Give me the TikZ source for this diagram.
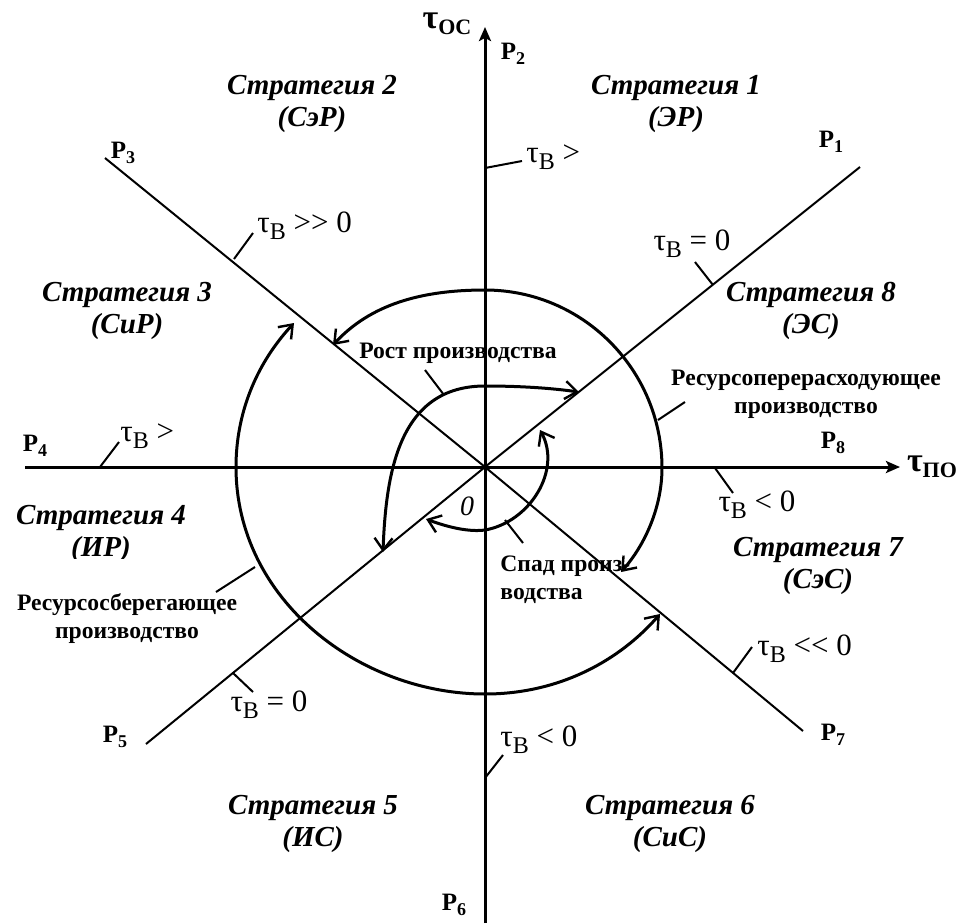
\documentclass[tikz,border=0pt]{standalone}
\usepackage{fontspec}
\setmainfont{Liberation Serif}[Ligatures=TeXOff]
\usetikzlibrary{arrows.meta}
\newcommand{\tauB}{τ\raisebox{-0.5ex}{\fontsize{12}{12}\selectfont B}}
\newcommand{\Plab}[1]{P\raisebox{-0.4ex}{\fontsize{9}{9}\selectfont #1}}
\begin{document}
\begin{tikzpicture}[x=0.5pt,y=-0.5pt,
  axis/.style={line width=1.5pt},
  ray/.style={line width=1pt},
  tickline/.style={line width=1pt},
  loopline/.style={line width=1.5pt,
    {Straight Barb[length=6pt,width=9pt,line width=1.2pt]}-{Straight Barb[length=6pt,width=9pt,line width=1.2pt]}},
  strat/.style={font=\fontsize{14.5}{16}\selectfont\bfseries\itshape, align=center, inner sep=0pt},
  lab/.style={font=\fontsize{15.5}{16}\selectfont, inner sep=0pt},
  plab/.style={font=\fontsize{12.5}{14}\selectfont\bfseries, inner sep=0pt},
  txt/.style={font=\fontsize{11.8}{14}\selectfont\bfseries, inner sep=0pt}
]
\useasboundingbox (0,0) rectangle (965,923);

% axes
\coordinate (O) at (485,467);
\coordinate (ytop) at (485,27);
\coordinate (ybot) at (485,923);
\coordinate (xl) at (25,467);
\coordinate (xr) at (900,467);
\draw[axis,-{Stealth[length=7pt,width=6pt,inset=1.5pt]}] (ybot) -- (ytop);
\draw[axis,-{Stealth[length=7pt,width=6pt,inset=1.5pt]}] (xl) -- (xr);

% diagonal rays
\coordinate (e1) at (860,167);
\coordinate (e5) at (146,744);
\coordinate (e3) at (105,158);
\coordinate (e7) at (803,731);
\draw[ray] (e5) -- (O) -- (e1);
\draw[ray] (e3) -- (O) -- (e7);

% axis labels
\node[font=\fontsize{17}{17}\selectfont\bfseries, inner sep=0pt] (tOC) at (447,24) {τ\raisebox{-0.4ex}{\fontsize{11}{11}\selectfont OC}};
\node[font=\fontsize{17}{17}\selectfont\bfseries, inner sep=0pt] (tPO) at (932,467) {τ\raisebox{-0.4ex}{\fontsize{11}{11}\selectfont ПО}};

% P labels
\node[plab] (P1) at (831,142) {\Plab{1}};
\node[plab] (P2) at (513,54) {\Plab{2}};
\node[plab] (P3) at (123,153) {\Plab{3}};
\node[plab] (P4) at (35,446) {\Plab{4}};
\node[plab] (P5) at (115,737) {\Plab{5}};
\node[plab] (P6) at (454,905) {\Plab{6}};
\node[plab] (P7) at (833,735) {\Plab{7}};
\node[plab] (P8) at (833,443) {\Plab{8}};

% strategy labels
\node[strat] (S1) at (676,104) {Стратегия 1\\(ЭР)};
\node[strat] (S2) at (312,104) {Стратегия 2\\(СэР)};
\node[strat] (S3) at (127,311) {Стратегия 3\\(СиР)};
\node[strat] (S8) at (811,311) {Стратегия 8\\(ЭС)};
\begin{scope}
  \clip (0,0) rectangle (965,558);
  \node[strat] (S4) at (101,534) {Стратегия 4\\(ИР)};
\end{scope}
\node[strat] (S7) at (818,566) {Стратегия 7\\(СэС)};
\node[strat] (S5) at (313,824) {Стратегия 5\\(ИС)};
\node[strat] (S6) at (670,824) {Стратегия 6\\(СиС)};

% tau_B tick labels
\node[lab, anchor=west] (L1) at (526,157) {\tauB{} >};
\node[lab, anchor=west] (L2) at (257,226) {\tauB{} >> 0};
\node[lab] (L3) at (692,244) {\tauB{} = 0};
\node[lab, anchor=west] (L4) at (120,436) {\tauB{} >};
\node[lab] (L5) at (757,505) {\tauB{} < 0};
\node[lab, anchor=west] (L6) at (757,649) {\tauB{} << 0};
\node[lab, anchor=west] (L7) at (500,740) {\tauB{} < 0};
\node[lab] (L8) at (269,705) {\tauB{} = 0};

% ticks
\coordinate (a1) at (485,168); \coordinate (b1) at (522,161);
\coordinate (a2) at (234,259); \coordinate (b2) at (253,233);
\coordinate (a3) at (713,285); \coordinate (b3) at (695,262);
\coordinate (a4) at (100,467); \coordinate (b4) at (119,442);
\coordinate (a5) at (715,468); \coordinate (b5) at (733,493);
\coordinate (a6) at (733,673); \coordinate (b6) at (752,647);
\coordinate (a7) at (485,778); \coordinate (b7) at (503,755);
\coordinate (a8) at (233,673); \coordinate (b8) at (253,692);
\foreach \i in {1,...,8} \draw[tickline] (a\i) -- (b\i);

% loops
\coordinate (A0) at (333,345); \coordinate (A1) at (485,290);
\coordinate (A2) at (662,468); \coordinate (A3) at (621,572);
\draw[loopline] (A0) .. controls (370,305) and (420,290) .. (A1)
  .. controls (583,290) and (662,370) .. (A2)
  .. controls (662,507) and (645,545) .. (A3);
\coordinate (B0) at (294,323); \coordinate (B1) at (236,467);
\coordinate (B2) at (485,694); \coordinate (B3) at (660,614);
\draw[loopline] (B0) .. controls (255,365) and (236,415) .. (B1)
  .. controls (236,600) and (360,694) .. (B2)
  .. controls (560,694) and (620,660) .. (B3);
\coordinate (C0) at (383,552); \coordinate (C1) at (485,386); \coordinate (C2) at (579,392);
\draw[loopline] (C0) .. controls (386,470) and (400,386) .. (C1)
  .. controls (520,386) and (550,388) .. (C2);
\coordinate (D0) at (426,519); \coordinate (D1) at (485,530); \coordinate (D2) at (540,430);
\draw[loopline] (D0) .. controls (450,528) and (470,532) .. (D1)
  .. controls (530,522) and (562,470) .. (D2);

% text labels with ticks
\node[txt, align=center] (Rpr) at (806,394) {Ресурсоперерасходующее\\производство};
\node[txt, align=center] (Rsb) at (127,619) {Ресурсосберегающее\\производство};
\node[txt] (Rost) at (458,353) {Рост производства};
\node[txt, align=left, anchor=west] (Spad) at (500,580) {Спад произ-\\водства};
\node[font=\fontsize{14}{14}\selectfont\itshape, inner sep=0pt] (zero) at (467,506) {0};

\coordinate (a9) at (658,420); \coordinate (b9) at (685,402);
\coordinate (a10) at (255,567); \coordinate (b10) at (216,592);
\coordinate (a11) at (444,395); \coordinate (b11) at (425,370);
\coordinate (a12) at (505,520); \coordinate (b12) at (523,543);
\foreach \i in {9,...,12} \draw[tickline] (a\i) -- (b\i);
\end{tikzpicture}
\end{document}
